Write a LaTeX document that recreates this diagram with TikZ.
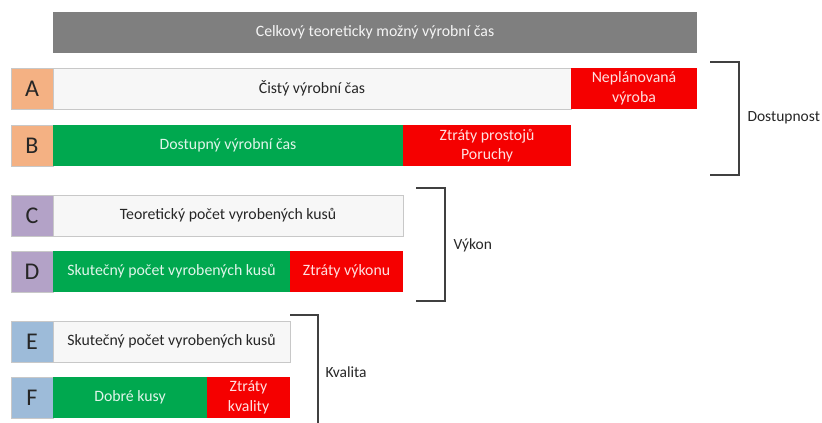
\documentclass[tikz,border=0pt]{standalone}
\usepackage{fontspec}
\setmainfont{Carlito}
\usetikzlibrary{positioning}

\definecolor{bargray}{HTML}{7F7F7F}
\definecolor{bargreen}{HTML}{00A84F}
\definecolor{barred}{HTML}{F50000}
\definecolor{barwhite}{HTML}{F7F7F7}
\definecolor{edgegray}{HTML}{C8C8C8}
\definecolor{lettorange}{HTML}{F4B183}
\definecolor{lettpurple}{HTML}{B3A2C7}
\definecolor{lettblue}{HTML}{9DBBD9}
\definecolor{bracketgray}{HTML}{404040}

\begin{document}
\begin{tikzpicture}[
     x = 1pt, y = -1pt,
     bar/.style = {anchor = north west, minimum height = 41pt, inner sep = 0pt,
                   outer sep = 0pt, align = center, font = \fontsize{15.8}{19.5}\selectfont},
     graybar/.style = {bar, fill = bargray, text = white!92!bargray},
     whitebar/.style = {bar, fill = barwhite, draw = edgegray, text = black!85},
     greenbar/.style = {bar, fill = bargreen, text = white!88!bargreen},
     redbar/.style = {bar, fill = barred, text = white!88!barred},
     lettbox/.style = {bar, minimum width = 42pt, draw = edgegray,
                       font = \fontsize{24}{25}\selectfont, text = black!85},
     bracket/.style = {draw = bracketgray, line width = 1.8pt},
     grouplabel/.style = {anchor = west, font = \fontsize{15.5}{17}\selectfont, text = black!85}
    ]
    \useasboundingbox (0,0) rectangle (822,423);

    % celkovy cas
    \node[graybar, minimum width = 644pt] (total) at (53,12)
      {Celkový teoreticky možný výrobní čas};

    % dostupnost
    \node[lettbox, fill = lettorange] (A) at (11,68) {A};
    \node[whitebar, minimum width = 518pt, right = 0pt of A] (cisty) {Čistý výrobní čas};
    \node[redbar, minimum width = 126pt, right = 0pt of cisty] (neplan) {Neplánovaná\\výroba};

    \node[lettbox, fill = lettorange] (B) at (11,125) {B};
    \node[greenbar, minimum width = 350pt, right = 0pt of B] (dostupny) {Dostupný výrobní čas};
    \node[redbar, minimum width = 168pt, right = 0pt of dostupny] (prostoje) {Ztráty prostojů\\Poruchy};

    % vykon
    \node[lettbox, fill = lettpurple] (C) at (11,195) {C};
    \node[whitebar, minimum width = 350pt, right = 0pt of C] (teorkusy) {Teoretický počet vyrobených kusů};

    \node[lettbox, fill = lettpurple] (D) at (11,251) {D};
    \node[greenbar, minimum width = 237pt, right = 0pt of D] (skutkusy) {Skutečný počet vyrobených kusů};
    \node[redbar, minimum width = 113pt, right = 0pt of skutkusy] (ztrvykon) {Ztráty výkonu};

    % kvalita
    \node[lettbox, fill = lettblue] (E) at (11,321) {E};
    \node[whitebar, minimum width = 237pt, right = 0pt of E] (skutkusyE) {Skutečný počet vyrobených kusů};

    \node[lettbox, fill = lettblue] (F) at (11,377) {F};
    \node[greenbar, minimum width = 154pt, right = 0pt of F] (dobre) {Dobré kusy};
    \node[redbar, minimum width = 83pt, right = 0pt of dobre] (ztrkval) {Ztráty\\kvality};

    % zavorky
    \coordinate (dtop) at (710,62);
    \coordinate (dbot) at (710,175);
    \draw[bracket] (dtop) -- ++(29,0) |- (dbot);
    \node[grouplabel] (dostupnost) at (744,118) {Dostupnost};

    \coordinate (vtop) at (416,188);
    \coordinate (vbot) at (416,301);
    \draw[bracket] (vtop) -- ++(29,0) |- (vbot);
    \node[grouplabel] (vykon) at (450,245) {Výkon};

    \coordinate (ktop) at (290,315);
    \coordinate (kbot) at (318,430);
    \draw[bracket] (ktop) -| (kbot);
    \node[grouplabel] (kvalita) at (322,372) {Kvalita};

   \end{tikzpicture}
\end{document}
